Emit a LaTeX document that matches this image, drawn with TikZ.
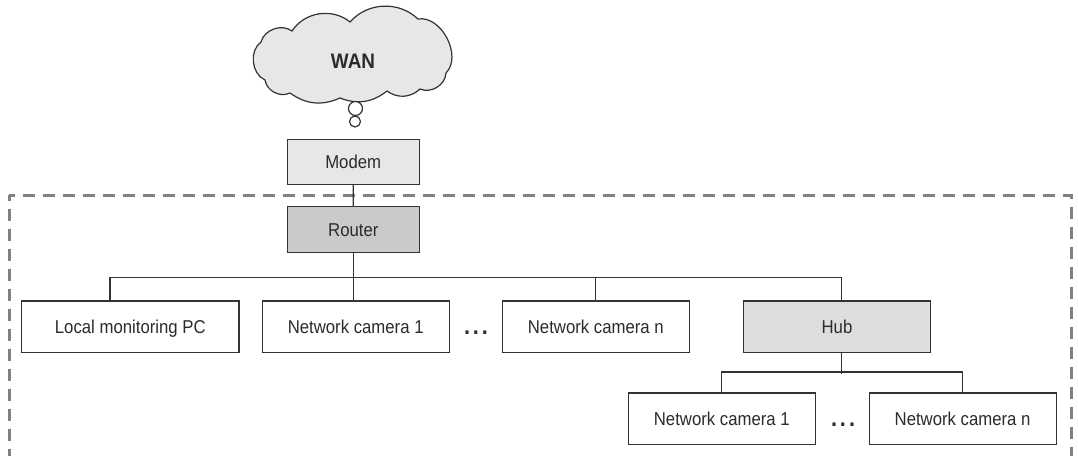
\documentclass[tikz,border=0pt]{standalone}
\usepackage{fontspec}
\setmainfont{Liberation Sans}[FakeStretch=0.9]
\usepackage{tikz}
\definecolor{linegray}{HTML}{333333}
\definecolor{textgray}{HTML}{2B2B2B}
\definecolor{framegray}{HTML}{808080}
\definecolor{modemfill}{HTML}{E6E7E8}
\definecolor{routerfill}{HTML}{C9CACB}
\definecolor{hubfill}{HTML}{DCDDDE}
\newcommand\boxfont{\fontsize{18.6}{22}\selectfont}
\tikzstyle{devbox}=[draw=linegray, line width=1.2pt, fill=white, inner sep=0pt,
  minimum width=187pt, minimum height=51.3pt, text height=13.5pt, text depth=0pt,
  font=\boxfont, text=textgray]
\tikzstyle{smallbox}=[devbox, minimum width=132pt, minimum height=45pt]
\tikzstyle{bubble}=[circle, draw=linegray, line width=1.2pt, fill=white, inner sep=0pt]
\tikzstyle{wire}=[draw=linegray, line width=1.2pt]
\tikzstyle{dots}=[anchor=base, inner sep=0pt, font=\fontsize{24}{26}\selectfont\bfseries, text=textgray]
\tikzset{lanframe/.style={draw=framegray, line width=3pt,
      dash pattern=on 12.7pt off 7.3pt, dash phase=6.4pt}}

\begin{document}
\begin{tikzpicture}[x=1pt,y=-1pt]
    \useasboundingbox (0,0) rectangle (1078,455);
    % local network border
    \draw[lanframe] (9,195) -- (9,462);
    \draw[lanframe] (9,195) -- (1071,195) -- (1071,462);
    % WAN cloud
    \draw[wire, fill=modemfill] (265,80) to[bend left=60] (261,42) to[bend left=56] (292,31)
      to[bend left=48] (350,22) to[bend left=46] (418,19) to[bend left=72] (446,73)
      to[bend left=56] (420,89) to[bend left=40] (387,91) to[bend left=30] (340,98)
      to[bend left=30] (290,93) to[bend left=54] (265,80) -- cycle;
    \node[font=\fontsize{21}{24}\selectfont\bfseries, text=textgray] (wan) at (353,61) {WAN};
    \node[bubble, minimum size=14pt] (bub1) at (355.5,108.5) {};
    \node[bubble, minimum size=11pt] (bub2) at (355,121.5) {};
    % devices
    \node[smallbox, fill=modemfill] (modem) at (353.2,161.7) {Modem};
    \node[smallbox, fill=routerfill, minimum height=45.6pt] (router) at (353.3,229.5) {Router};
    \node[devbox, minimum width=217.3pt] (pc) at (130.3,326.7) {Local monitoring PC};
    \node[devbox] (cam1) at (355.7,326.7) {Network camera 1};
    \node[devbox] (camn) at (595.8,326.7) {Network camera n};
    \node[devbox, fill=hubfill] (hub) at (837,326.7) {Hub};
    \node[devbox] (hcam1) at (721.8,418.7) {Network camera 1};
    \node[devbox] (hcamn) at (962.6,418.7) {Network camera n};
    \node[dots] (dots1) at (476,334) {.\hspace{3pt}.\hspace{3pt}.};
    \node[dots] (dots2) at (843,426) {.\hspace{3pt}.\hspace{3pt}.};
    % connections
    \draw[wire] (modem) -- (router);
    \draw[wire] (router.south) -- (router.south |- cam1.north);
    \draw[wire] ([xshift=-20.3pt]pc.north) -- ++(0,-22.7) -| ([xshift=4.8pt]hub.north);
    \draw[wire] (camn.north) -- ++(0,-22.7);
    \draw[wire] ([xshift=4.8pt]hub.south) -- ++(0,20.7);
    \draw[wire] (hcam1.north) -- ++(0,-20.5) -| (hcamn.north);
\end{tikzpicture}
\end{document}
